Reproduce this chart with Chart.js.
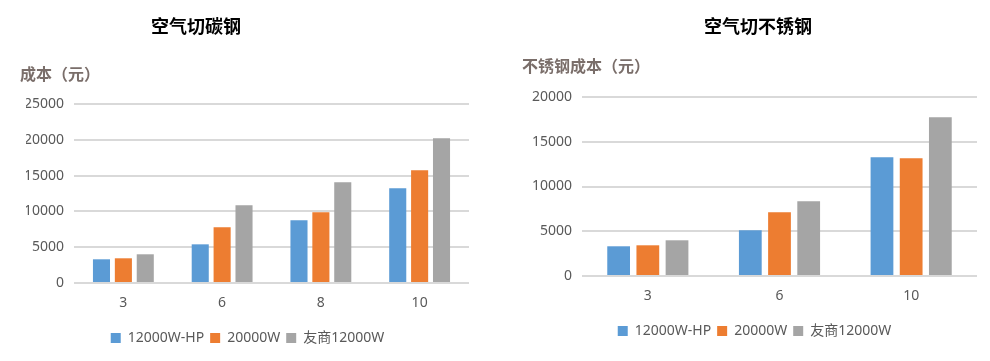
<!DOCTYPE html>
<html>
<head>
<meta charset="utf-8">
<script src="https://cdn.jsdelivr.net/npm/chart.js@4"></script>
<style>
  html, body { margin: 0; padding: 0; background: #fff; }
  body { width: 990px; height: 361px; position: relative; overflow: hidden;
         font-family: "Noto Sans", "Noto Sans CJK SC", sans-serif; }
  .box { position: absolute; top: 0; height: 361px; }
  .title { position: absolute; font-size: 18px; font-weight: bold; color: #000;
           font-family: "Noto Sans CJK SC", sans-serif;
           transform: translate(-50%, -50%); white-space: nowrap; }
  .ylabel { position: absolute; font-size: 16px; font-weight: bold; color: #7a6e6a;
            font-family: "Noto Sans CJK SC", sans-serif;
            transform: translateY(-50%); white-space: nowrap; }
</style>
</head>
<body>
<div class="box" style="left:0;width:495px"><canvas id="carbonChart"></canvas></div>
<div class="box" style="left:519px;width:471px"><canvas id="stainlessChart"></canvas></div>

<div class="title" style="left:196px;top:25px">空气切碳钢</div>
<div class="title" style="left:758px;top:25px">空气切不锈钢</div>
<div class="ylabel" style="left:20px;top:73px">成本（元）</div>
<div class="ylabel" style="left:522px;top:65px">不锈钢成本（元）</div>

<script>
// =============================================================================
// DATA
// =============================================================================
const seriesNames = ["12000W-HP", "20000W", "友商12000W"];
const seriesColors = ["#5b9bd5", "#ed7d31", "#a5a5a5"];

// 空气切碳钢
const carbonThickness = ["3", "6", "8", "10"];
const carbonHP = [3310, 5400, 8760, 13230];
const carbon20k = [3450, 7780, 9880, 15740];
const carbonRival = [4010, 10850, 14070, 20210];
const carbonTicks = [0, 5000, 10000, 15000, 20000, 25000];

// 空气切不锈钢
const stainlessThickness = ["3", "6", "10"];
const stainlessHP = [3320, 5100, 13260];
const stainless20k = [3430, 7120, 13150];
const stainlessRival = [3990, 8340, 17730];
const stainlessTicks = [0, 5000, 10000, 15000, 20000];

// =============================================================================
// CHART
// =============================================================================
const TEXT = "#595959";
const GRID = "#d9d9d9";
const FONT = "'Noto Sans', 'Noto Sans CJK SC', sans-serif";

function makeChart(id, labels, values, ticks, yWidth, pad) {
  const datasets = values.map((data, i) => ({
    label: seriesNames[i],
    data,
    backgroundColor: seriesColors[i],
    borderWidth: 0,
    categoryPercentage: 0.665,
    barPercentage: 0.78
  }));

  return new Chart(document.getElementById(id), {
    type: "bar",
    data: { labels, datasets },
    options: {
      responsive: true,
      maintainAspectRatio: false,
      animation: false,
      layout: { padding: pad },
      plugins: {
        tooltip: { enabled: false },
        legend: {
          position: "bottom",
          labels: {
            boxWidth: 10,
            boxHeight: 10,
            padding: 6,
            color: TEXT,
            font: { family: FONT, size: 14 }
          }
        }
      },
      scales: {
        x: {
          grid: { display: false, drawTicks: false },
          border: { display: false },
          ticks: { color: TEXT, padding: 12, font: { family: FONT, size: 14 } },
          afterFit(scale) { scale.height = 42; }
        },
        y: {
          min: ticks[0],
          max: ticks[ticks.length - 1],
          afterBuildTicks(scale) { scale.ticks = ticks.map(v => ({ value: v })); },
          grid: { color: GRID, lineWidth: 2, drawTicks: false },
          border: { display: false },
          ticks: {
            color: TEXT,
            padding: 10,
            font: { family: FONT, size: 14 },
            callback: v => String(v)
          },
          afterFit(scale) { scale.width = yWidth; }
        }
      }
    }
  });
}

// left padding keeps the legend centred where the original has it
makeChart("carbonChart", carbonThickness,
  [carbonHP, carbon20k, carbonRival], carbonTicks, 48,
  { left: 26, right: 26, top: 104, bottom: 6 });
makeChart("stainlessChart", stainlessThickness,
  [stainlessHP, stainless20k, stainlessRival], stainlessTicks, 50,
  { left: 13, right: 13, top: 97, bottom: 13 });
</script>
</body>
</html>
